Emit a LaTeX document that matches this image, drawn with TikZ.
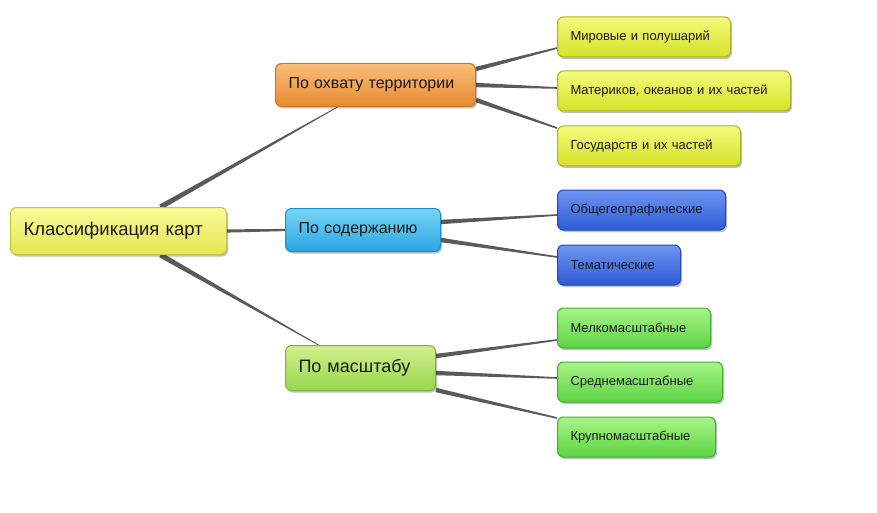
\documentclass[tikz,border=0pt]{standalone}
\usepackage{fontspec}
\setmainfont{Liberation Sans}
\usetikzlibrary{calc,shadows,backgrounds}
\definecolor{txt}{HTML}{1A1A1A}
\definecolor{conncol}{HTML}{5A5A5A}
\newcommand\taperconn[4]{%
  \fill[conncol] ($(#1)!#3!90:(#2)$) -- ($(#2)!#4!-90:(#1)$) -- ($(#2)!#4!90:(#1)$) -- ($(#1)!#3!-90:(#2)$) -- cycle;}
\tikzset{
  boxbase/.style={rounded corners=6pt, anchor=west, inner xsep=13pt, inner ysep=0pt,
    align=left, text=txt, line width=1pt,
    drop shadow={shadow xshift=1.5pt, shadow yshift=-2pt, opacity=0.25, fill=black}},
  rootbox/.style={boxbase, draw=rootdraw, top color=roottop, bottom color=rootbot, font=\fontsize{18.5}{20}\selectfont},
  orangebox/.style={boxbase, draw=ordraw, top color=ortop, bottom color=orbot, font=\fontsize{16}{18}\selectfont},
  cyanbox/.style={boxbase, draw=cydraw, top color=cytop, bottom color=cybot, font=\fontsize{16}{18}\selectfont},
  gmidbox/.style={boxbase, draw=gmdraw, top color=gmtop, bottom color=gmbot, font=\fontsize{18}{20}\selectfont},
  yleaf/.style={boxbase, draw=yldraw, top color=yltop, bottom color=ylbot, font=\fontsize{13}{15}\selectfont},
  bleaf/.style={boxbase, draw=bldraw, top color=bltop, bottom color=blbot, font=\fontsize{13}{15}\selectfont},
  gleaf/.style={boxbase, draw=gldraw, top color=gltop, bottom color=glbot, font=\fontsize{13}{15}\selectfont},
}
\definecolor{roottop}{HTML}{FAFA9C}\definecolor{rootbot}{HTML}{E6E650}\definecolor{rootdraw}{HTML}{C4C448}
\definecolor{ortop}{HTML}{F8BE78}\definecolor{orbot}{HTML}{E88A30}\definecolor{ordraw}{HTML}{C8782A}
\definecolor{cytop}{HTML}{78D4F8}\definecolor{cybot}{HTML}{28A6E0}\definecolor{cydraw}{HTML}{2090C8}
\definecolor{gmtop}{HTML}{D0F08C}\definecolor{gmbot}{HTML}{98D64C}\definecolor{gmdraw}{HTML}{78B838}
\definecolor{yltop}{HTML}{F4FA7C}\definecolor{ylbot}{HTML}{D6E228}\definecolor{yldraw}{HTML}{AAB428}
\definecolor{bltop}{HTML}{6E96F2}\definecolor{blbot}{HTML}{2E5AD6}\definecolor{bldraw}{HTML}{2448B0}
\definecolor{gltop}{HTML}{A8F488}\definecolor{glbot}{HTML}{5CD444}\definecolor{gldraw}{HTML}{44B030}
\begin{document}
\begin{tikzpicture}[x=1pt,y=-1pt]
\path[use as bounding box] (0,0) rectangle (877,513);
% main nodes
\node[rootbox, text width=190pt, minimum height=47pt] (root) at (10,231) {Классификация карт};
\node[orangebox, text width=174pt, minimum height=43pt] (terr) at (275,85) {По охвату территории};
\node[cyanbox, text width=129pt, minimum height=43pt] (cont) at (285,230) {По содержанию};
\node[gmidbox, text width=124pt, minimum height=45pt] (scale) at (285,368) {По масштабу};
% leaves
\node[yleaf, text width=147pt, minimum height=40pt] (l1) at (557,37) {Мировые и полушарий};
\node[yleaf, text width=207pt, minimum height=40pt] (l2) at (557,91) {Материков, океанов и их частей};
\node[yleaf, text width=157pt, minimum height=40pt] (l3) at (557,146) {Государств и их частей};
\node[bleaf, text width=142pt, minimum height=40pt] (l4) at (557,210) {Общегеографические};
\node[bleaf, text width=97pt, minimum height=40pt] (l5) at (557,265) {Тематические};
\node[gleaf, text width=127pt, minimum height=40pt] (l6) at (557,328) {Мелкомасштабные};
\node[gleaf, text width=139pt, minimum height=40pt] (l7) at (557,382) {Среднемасштабные};
\node[gleaf, text width=132pt, minimum height=40pt] (l8) at (557,437) {Крупномасштабные};
% connector endpoints
\coordinate (rA) at ($(root.north)+(42,0)$);
\coordinate (tA) at ($(terr.south)+(-38,0)$);
\coordinate (rB) at ($(root.south)+(42,0)$);
\coordinate (sA) at ($(scale.north)+(-42,0)$);
\coordinate (t1) at ($(terr.east)+(0,-16)$);
\coordinate (t2) at ($(terr.east)+(0,0)$);
\coordinate (t3) at ($(terr.east)+(0,15)$);
\coordinate (e1) at ($(l1.west)+(0,11)$);
\coordinate (e2) at ($(l2.west)+(0,-3)$);
\coordinate (e3) at ($(l3.west)+(0,-18)$);
\coordinate (c1) at ($(cont.east)+(0,-8)$);
\coordinate (c2) at ($(cont.east)+(0,10)$);
\coordinate (e4) at ($(l4.west)+(0,5)$);
\coordinate (e5) at ($(l5.west)+(0,-8)$);
\coordinate (s1) at ($(scale.east)+(0,-12)$);
\coordinate (s2) at ($(scale.east)+(0,5)$);
\coordinate (s3) at ($(scale.east)+(0,22)$);
\coordinate (e6) at ($(l6.west)+(0,12)$);
\coordinate (e7) at ($(l7.west)+(0,-4)$);
\coordinate (e8) at ($(l8.west)+(0,-19)$);
\begin{scope}[on background layer]
\taperconn{rA}{tA}{2.6pt}{0.4pt}
\taperconn{root.east}{cont.west}{1.6pt}{1.1pt}
\taperconn{rB}{sA}{2.6pt}{0.4pt}
\taperconn{t1}{e1}{2.2pt}{0.8pt}
\taperconn{t2}{e2}{2.2pt}{0.8pt}
\taperconn{t3}{e3}{2.2pt}{0.8pt}
\taperconn{c1}{e4}{2.2pt}{0.8pt}
\taperconn{c2}{e5}{2.2pt}{0.8pt}
\taperconn{s1}{e6}{2.2pt}{0.8pt}
\taperconn{s2}{e7}{2.2pt}{0.8pt}
\taperconn{s3}{e8}{2.2pt}{0.8pt}
\end{scope}
\end{tikzpicture}
\end{document}
